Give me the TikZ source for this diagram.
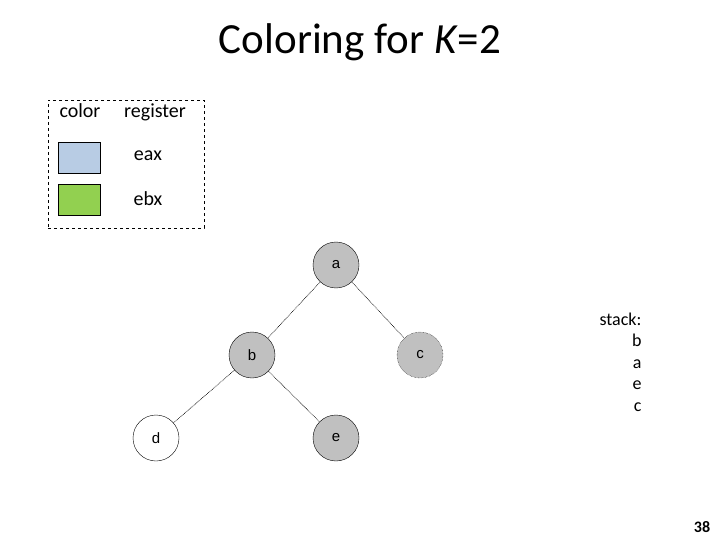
\documentclass[tikz,border=0pt]{standalone}
\usepackage{fontspec}
\setmainfont{Carlito}
\newfontfamily\nodefont{Liberation Sans}
\usepackage{xcolor}
\usetikzlibrary{positioning}
\definecolor{eaxblue}{RGB}{184,204,228}
\definecolor{ebxgreen}{RGB}{146,208,80}
\definecolor{nodegray}{RGB}{192,192,192}

\begin{document}
\begin{tikzpicture}[
    x=1pt, y=-1pt,
    vertex/.style = {circle, draw=black, fill=nodegray, minimum size=46pt, inner sep=0pt, font=\nodefont\fontsize{15}{17}\selectfont},
    edge/.style = {draw=black, line width=0.6pt, dash pattern=on 0.8pt off 0.8pt},
    swatch/.style = {rectangle, draw=black, minimum width=42pt, minimum height=31pt, inner sep=0pt},
    legend/.style = {font=\fontsize{20}{22}\selectfont, anchor=base},
    stacktext/.style = {font=\fontsize{18}{21.5}\selectfont, align=right, anchor=north east}
]
    \useasboundingbox (0,0) rectangle (720,540);

    % Title
    \node (title) at (360,42) {\fontsize{43}{46}\selectfont Coloring for \textit{K}=2};

    % Legend
    \node [draw=black, dashed, minimum width=156pt, minimum height=128pt, inner sep=0pt] (legendbox) at (126,164) {};
    \node [legend] (colorhead) at (80,118) {color};
    \node [legend] (reghead) at (155,118) {register};
    \node [swatch, fill=eaxblue] (eaxbox) at (79,157.5) {};
    \node [swatch, fill=ebxgreen] (ebxbox) at (79,200) {};
    \node [legend] (eaxlabel) at (148,161) {eax};
    \node [legend] (ebxlabel) at (148,206) {ebx};

    % Graph
    \node [vertex] (a) at (336,265) {a};
    \node [vertex] (b) at (252,355) {b};
    \node [vertex, densely dotted] (c) at (420,355) {c};
    \node [vertex, fill=white] (d) at (156,438) {d};
    \node [vertex] (e) at (336,438) {e};

    \draw [edge] (a) -- (b);
    \draw [edge] (a) -- (c);
    \draw [edge] (b) -- (d);
    \draw [edge] (b) -- (e);

    % Stack
    \node [stacktext] (stack) at (645,309) {stack:\\b\\a\\e\\c};

    % Slide number
    \node [font=\bfseries\fontsize{16}{18}\selectfont] (pagenum) at (702,527) {38};
\end{tikzpicture}
\end{document}
